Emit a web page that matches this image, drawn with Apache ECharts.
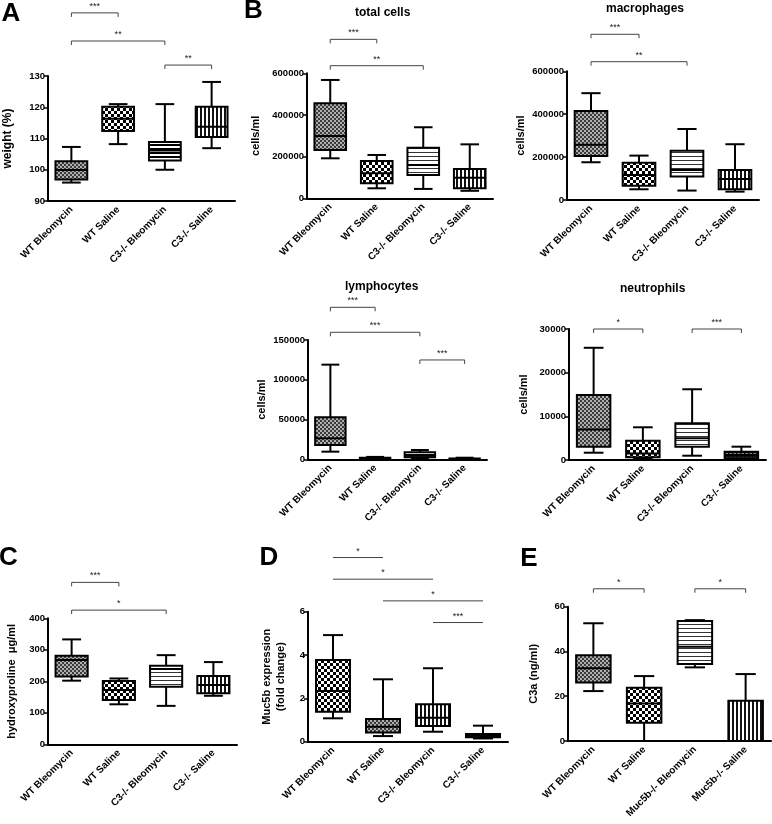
<!DOCTYPE html>
<html><head><meta charset="utf-8">
<script src="https://cdn.jsdelivr.net/npm/echarts@6/dist/echarts.min.js"></script>
<style>html,body{margin:0;padding:0;background:#fff}#c{width:772px;height:824px}</style>
</head><body><div id="c"></div>
<script>
// ---------- DATA ----------
const groupsC3 = ['WT Bleomycin', 'WT Saline', 'C3-/- Bleomycin', 'C3-/- Saline'];
const groupsMuc = ['WT Bleomycin', 'WT Saline', 'Muc5b-/- Bleomycin', 'Muc5b-/- Saline'];

// box stats per group: [min, Q1, median, Q3, max]
const weightBoxes = [[95.9, 96.9, 99.9, 102.7, 107.3], [108.2, 112.4, 116.3, 120.2, 121], [100, 103, 106.2, 108.9, 121], [106.9, 110.5, 113.8, 120.2, 128.1]];
const totalCellsBoxes = [[192000, 232000, 299000, 456000, 568000], [48000, 72000, 120000, 179000, 208000], [45000, 112000, 160000, 243000, 341000], [36000, 48000, 99000, 141000, 259000]];
const macrophageBoxes = [[176000, 205000, 257000, 415000, 498000], [50000, 67000, 117000, 174000, 207000], [44000, 109000, 140000, 230000, 331000], [39000, 50000, 98000, 140000, 260000]];
const lymphocyteBoxes = [[9600, 18000, 26400, 52800, 119000], [200, 500, 1000, 2000, 3000], [1200, 2500, 5400, 8800, 11700], [100, 200, 500, 1000, 2000]];
const neutrophilBoxes = [[1670, 3050, 7000, 14900, 25700], [230, 620, 1500, 4420, 7490], [985, 3050, 5000, 8400, 16200], [100, 390, 1150, 1900, 3050]];
const hydroxyBoxes = [[202, 215, 268, 281, 333], [127, 141, 172, 201, 209], [122, 183, 239, 249, 283], [154, 162, 188, 217, 261]];
const muc5bBoxes = [[1.08, 1.38, 2.34, 3.77, 4.92], [0.26, 0.43, 0.69, 1.05, 2.88], [0.46, 0.72, 1.1, 1.73, 3.39], [0.15, 0.2, 0.3, 0.36, 0.74]];
const c3aBoxes = [[22.3, 26.1, 32.5, 38.3, 52.6], [0, 8.2, 16.8, 23.8, 29.0], [32.9, 34.4, 42.1, 53.6, 54], [0, 0, 0, 18, 29.9]];

// significance brackets: [fromGroup, toGroup, level (axis units)] and their labels
const weightSig = [[0, 1, 150.2], [0, 2, 141.2], [2, 3, 133.5]];
const weightSigText = ['***', '**', '**'];
const totalSig = [[0, 1, 763000], [0, 2, 636500]];
const totalSigText = ['***', '**'];
const macroSig = [[0, 1, 772500], [0, 2, 644800]];
const macroSigText = ['***', '**'];
const lymphSig = [[0, 1, 191100], [0, 2, 159700], [2, 3, 124900]];
const lymphSigText = ['***', '***', '***'];
const neutroSig = [[0, 1, 30000], [2, 3, 30000]];
const neutroSigText = ['*', '***'];
const hydroxySig = [[0, 1, 514], [0, 2, 426]];
const hydroxySigText = ['***', '*'];
const muc5bSig = [[0, 1, 8.5], [0, 2, 7.5], [1, 3, 6.5], [2, 3, 5.5]];
const muc5bSigText = ['*', '*', '*', '***'];
const c3aSig = [[0, 1, 68], [2, 3, 68]];
const c3aSigText = ['*', '*'];

// axis ranges: [min, max, interval]
const weightAxis = [90, 130, 10];
const cellsAxis = [0, 600000, 200000];
const lymphAxis = [0, 150000, 50000];
const neutroAxis = [0, 30000, 10000];
const hydroxyAxis = [0, 400, 100];
const muc5bAxis = [0, 6, 2];
const c3aAxis = [0, 60, 20];

// ---------- PATTERNS ----------
function pat(kind) {
  const c = document.createElement('canvas');
  const ctx = c.getContext('2d');
  if (kind === 'fine') {
    c.width = c.height = 4;
    ctx.fillStyle = '#b0b0b0'; ctx.fillRect(0, 0, 4, 4);
    ctx.fillStyle = '#3a3a3a'; ctx.fillRect(0, 0, 2, 2); ctx.fillRect(2, 2, 2, 2);
  } else if (kind === 'big') {
    c.width = c.height = 6;
    ctx.fillStyle = '#000'; ctx.fillRect(0, 0, 6, 6);
    ctx.fillStyle = '#fff'; ctx.fillRect(0, 0, 3, 3); ctx.fillRect(3, 3, 3, 3);
  } else if (kind === 'h') {
    c.width = c.height = 4;
    ctx.fillStyle = '#fff'; ctx.fillRect(0, 0, 4, 4);
    ctx.fillStyle = '#333'; ctx.fillRect(0, 0, 4, 1);
  } else if (kind === 'hd') {
    c.width = c.height = 4;
    ctx.fillStyle = '#fff'; ctx.fillRect(0, 0, 4, 4);
    ctx.fillStyle = '#000'; ctx.fillRect(0, 0, 4, 2);
  } else if (kind === 'v') {
    c.width = c.height = 4;
    ctx.fillStyle = '#fff'; ctx.fillRect(0, 0, 4, 4);
    ctx.fillStyle = '#111'; ctx.fillRect(0, 0, 2, 4);
  } else if (kind === 'grid') {
    c.width = c.height = 4;
    ctx.fillStyle = '#fff'; ctx.fillRect(0, 0, 4, 4);
    ctx.fillStyle = '#111'; ctx.fillRect(0, 0, 1.5, 4); ctx.fillRect(0, 0, 4, 1.5);
  } else {
    c.width = c.height = 2;
    ctx.fillStyle = '#111'; ctx.fillRect(0, 0, 2, 2);
  }
  return { image: c, repeat: 'repeat' };
}
const P = { fine: pat('fine'), big: pat('big'), h: pat('h'), hd: pat('hd'), v: pat('v'), grid: pat('grid'), black: pat('black') };

// ---------- PANELS (layout / style) ----------
const FONT = 'Liberation Sans';
const panels = [
  { grid: [46, 76, 189, 125], cats: groupsC3, boxes: weightBoxes, sig: weightSig, sigText: weightSigText, axis: weightAxis, name: 'weight (%)', gap: 33, nameSize: 12, fills: [P.fine, P.big, P.hd, P.v], drop: true },
  { grid: [307, 73.3, 186, 125], cats: groupsC3, boxes: totalCellsBoxes, sig: totalSig, sigText: totalSigText, axis: cellsAxis, name: 'cells/ml', gap: 44, nameSize: 11, fills: [P.fine, P.big, P.h, P.v], drop: true },
  { grid: [567, 71.3, 192, 128.7], cats: groupsC3, boxes: macrophageBoxes, sig: macroSig, sigText: macroSigText, axis: cellsAxis, name: 'cells/ml', gap: 39, nameSize: 11, fills: [P.fine, P.big, P.h, P.v], drop: true },
  { grid: [308, 340, 179, 119.3], cats: groupsC3, boxes: lymphocyteBoxes, sig: lymphSig, sigText: lymphSigText, axis: lymphAxis, name: 'cells/ml', gap: 38, nameSize: 11, fills: [P.fine, P.big, P.h, P.v], drop: true },
  { grid: [569, 329, 197, 131], cats: groupsC3, boxes: neutrophilBoxes, sig: neutroSig, sigText: neutroSigText, axis: neutroAxis, name: 'cells/ml', gap: 38, nameSize: 11, fills: [P.fine, P.big, P.h, P.grid], drop: true },
  { grid: [48, 618.3, 189, 126], cats: groupsC3, boxes: hydroxyBoxes, sig: hydroxySig, sigText: hydroxySigText, axis: hydroxyAxis, name: 'hydroxyproline  μg/ml', gap: 29, nameSize: 11, fills: [P.fine, P.big, P.h, P.v], drop: true },
  { grid: [308, 611.7, 200, 130], cats: groupsC3, boxes: muc5bBoxes, sig: muc5bSig, sigText: muc5bSigText, axis: muc5bAxis, name: 'Muc5b expression\n(fold change)', gap: 20, nameSize: 11, fills: [P.big, P.fine, P.v, P.black], drop: false },
  { grid: [568, 606.7, 203, 134.3], cats: groupsMuc, boxes: c3aBoxes, sig: c3aSig, sigText: c3aSigText, axis: c3aAxis, name: 'C3a (ng/ml)', gap: 27, nameSize: 11, fills: [P.fine, P.big, P.h, P.v], drop: true }
];

const grids = [], xAxes = [], yAxes = [], series = [];
panels.forEach((p, i) => {
  grids.push({ left: p.grid[0], top: p.grid[1], width: p.grid[2], height: p.grid[3], containLabel: false });
  xAxes.push({
    type: 'category', gridIndex: i, data: p.cats, boundaryGap: true,
    axisLine: { lineStyle: { color: '#000', width: 2 } },
    axisTick: { alignWithLabel: true, length: 4, lineStyle: { color: '#000', width: 1.5 } },
    axisLabel: { rotate: 45, interval: 0, margin: 7, color: '#000', fontFamily: FONT, fontWeight: 'bold', fontSize: 10 },
    splitLine: { show: false }
  });
  yAxes.push({
    type: 'value', gridIndex: i, min: p.axis[0], max: p.axis[1], interval: p.axis[2],
    axisLine: { show: true, lineStyle: { color: '#000', width: 2 } },
    axisTick: { show: true, length: 4, lineStyle: { color: '#000', width: 1.5 } },
    axisLabel: { margin: 3, color: '#000', fontFamily: FONT, fontWeight: 'bold', fontSize: 9.5, formatter: v => String(v) },
    splitLine: { show: false },
    name: p.name, nameLocation: 'middle', nameRotate: 90, nameGap: p.gap,
    nameTextStyle: { color: '#000', fontFamily: FONT, fontWeight: 'bold', fontSize: p.nameSize, lineHeight: 14 }
  });
  const fills = p.fills;
  series.push({
    type: 'custom', xAxisIndex: i, yAxisIndex: i, clip: false,
    data: p.boxes.map((b, k) => [k].concat(b)),
    encode: { x: 0, y: [1, 2, 3, 4, 5] },
    renderItem: function (params, api) {
      const ci = api.value(0);
      const band = api.size([1, 0])[0];
      const bw = band * 0.68, cw = band * 0.4;
      const pts = [1, 2, 3, 4, 5].map(d => api.coord([ci, api.value(d)]));
      const cx = pts[0][0];
      const yMin = pts[0][1], yQ1 = pts[1][1], yMed = pts[2][1], yQ3 = pts[3][1], yMax = pts[4][1];
      const ls = { stroke: '#000', lineWidth: 2, fill: null };
      return {
        type: 'group', children: [
          { type: 'line', shape: { x1: cx, y1: yMax, x2: cx, y2: yQ3 }, style: ls },
          { type: 'line', shape: { x1: cx, y1: yQ1, x2: cx, y2: yMin }, style: ls },
          { type: 'line', shape: { x1: cx - cw / 2, y1: yMax, x2: cx + cw / 2, y2: yMax }, style: ls },
          { type: 'line', shape: { x1: cx - cw / 2, y1: yMin, x2: cx + cw / 2, y2: yMin }, style: ls },
          { type: 'rect', shape: { x: cx - bw / 2, y: yQ3, width: bw, height: yQ1 - yQ3 }, style: { fill: fills[params.dataIndex], stroke: '#000', lineWidth: 2 } },
          { type: 'line', shape: { x1: cx - bw / 2, y1: yMed, x2: cx + bw / 2, y2: yMed }, style: ls }
        ]
      };
    },
    silent: true, z: 5
  });
  const texts = p.sigText, drop = p.drop;
  series.push({
    type: 'custom', xAxisIndex: i, yAxisIndex: i, clip: false,
    data: p.sig,
    encode: { x: [0, 1], y: 2 },
    renderItem: function (params, api) {
      const a = api.coord([api.value(0), api.value(2)]);
      const b = api.coord([api.value(1), api.value(2)]);
      const st = { stroke: '#444', lineWidth: 1, fill: null };
      const ch = [{ type: 'line', shape: { x1: a[0], y1: a[1], x2: b[0], y2: b[1] }, style: st }];
      if (drop) {
        ch.push({ type: 'line', shape: { x1: a[0], y1: a[1], x2: a[0], y2: a[1] + 4 }, style: st });
        ch.push({ type: 'line', shape: { x1: b[0], y1: b[1], x2: b[0], y2: b[1] + 4 }, style: st });
      }
      ch.push({ type: 'text', x: (a[0] + b[0]) / 2, y: a[1] - 2, style: { text: texts[params.dataIndex], align: 'center', verticalAlign: 'bottom', fontFamily: FONT, fontSize: 9, fill: '#222' } });
      return { type: 'group', children: ch };
    },
    silent: true, z: 4
  });
});

function label(t, x, y, size, weight) {
  return { type: 'text', x: x, y: y, silent: true, style: { text: t, align: 'center', verticalAlign: 'middle', fontFamily: FONT, fontSize: size, fontWeight: weight || 'bold', fill: '#000' } };
}
const graphics = [
  label('A', 11, 13.5, 26), label('B', 253.5, 10.5, 26), label('C', 8.5, 558, 26), label('D', 269, 558, 26), label('E', 529, 559, 26),
  label('total cells', 382.7, 12.5, 12), label('macrophages', 645, 8.5, 12),
  label('lymphocytes', 381.7, 286.7, 12), label('neutrophils', 652.7, 288.3, 12)
];

const chart = echarts.init(document.getElementById('c'), null, { renderer: 'canvas' });
chart.setOption({
  animation: false,
  backgroundColor: '#fff',
  grid: grids, xAxis: xAxes, yAxis: yAxes, series: series,
  graphic: graphics
});
</script>
</body></html>
